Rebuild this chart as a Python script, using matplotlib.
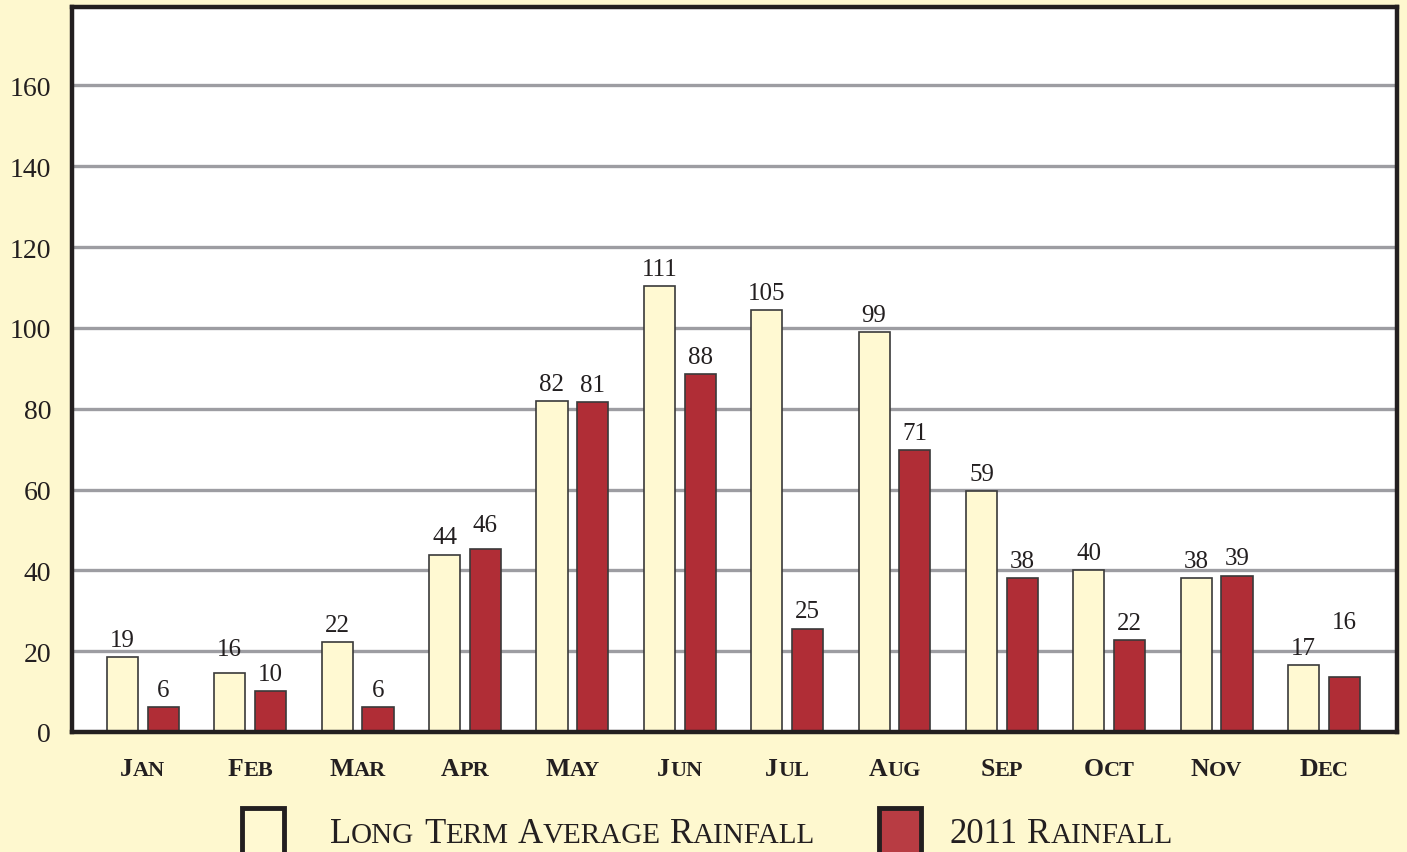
import matplotlib
matplotlib.use('Agg')
import matplotlib.pyplot as plt
import numpy as np
from matplotlib.patches import Rectangle
from matplotlib import transforms

# Monthly rainfall (mm) - values as labelled on the chart
months = ['Jan', 'Feb', 'Mar', 'Apr', 'May', 'Jun', 'Jul', 'Aug', 'Sep', 'Oct', 'Nov', 'Dec']
avg_labels = [19, 16, 22, 44, 82, 111, 105, 99, 59, 40, 38, 17]
rain_labels = [6, 10, 6, 46, 81, 88, 25, 71, 38, 22, 39, 16]
# bar heights as drawn (they don't always match the printed numbers)
avg_heights = [18.6, 14.6, 22.3, 43.9, 81.9, 110.4, 104.5, 99.0, 59.6, 40.0, 38.0, 16.6]
rain_heights = [6.2, 10.2, 6.2, 45.2, 81.6, 88.6, 25.6, 69.7, 38.0, 22.8, 38.7, 13.6]
y_ticks = [0, 20, 40, 60, 80, 100, 120, 140, 160]

BG = '#fef8cf'
CREAM = '#fff9d2'
RED = '#b02d36'
DARK = '#231f20'
FONT = 'Liberation Serif'

fig = plt.figure(figsize=(14.07, 8.53), dpi=100, facecolor=BG)
ax = fig.add_axes([72 / 1407, 1 - 733 / 853, 1325 / 1407, 725 / 853])
ax.set_facecolor('white')

x = np.arange(len(months))
w = 0.29
off = 0.19
ax.bar(x - off, avg_heights, w, color=CREAM, edgecolor='#3a3a3a', linewidth=1.2, zorder=3)
ax.bar(x + off, rain_heights, w, color=RED, edgecolor='#3a3a3a', linewidth=1.2, zorder=3)

# a couple of labels sit higher than the rest (points)
nudge_avg = {1: 5}
nudge_rain = {3: 5, 11: 27}
for i in range(len(months)):
    ax.annotate(str(avg_labels[i]), (x[i] - off, avg_heights[i]), xytext=(0, 8 + nudge_avg.get(i, 0)),
                textcoords='offset points', ha='center', va='baseline',
                fontsize=18, family=FONT, color=DARK, zorder=4)
    ax.annotate(str(rain_labels[i]), (x[i] + off, rain_heights[i]), xytext=(0, 8 + nudge_rain.get(i, 0)),
                textcoords='offset points', ha='center', va='baseline',
                fontsize=18, family=FONT, color=DARK, zorder=4)

ax.set_xlim(-0.66, 11.68)
ax.set_ylim(0, 179.4)
ax.set_yticks(y_ticks)
ax.set_yticklabels([str(v) for v in y_ticks], fontsize=20, family=FONT, color=DARK)
ax.tick_params(axis='y', length=0, pad=15)
ax.set_xticks([])
ax.yaxis.grid(True, color='#9d9da2', linewidth=2.4, zorder=1)
ax.set_axisbelow(True)
for s in ax.spines.values():
    s.set_linewidth(3.2)
    s.set_color(DARK)
    s.set_zorder(5)

renderer = fig.canvas.get_renderer()


def small_caps(xpos, ypos, s, big, small, trans, ha='center', **kw):
    runs = []
    for k, word in enumerate(s.split(' ')):
        if k:
            runs.append((' ', small))
        if word.isdigit():
            runs.append((word, big))
            continue
        runs.append((word[0], big))
        if len(word) > 1:
            runs.append((word[1:].upper(), small))
    texts, widths = [], []
    for t, fs in runs:
        if t == ' ':
            texts.append(None)
            widths.append(fs * 0.32 * fig.dpi / 72)
            continue
        txt = fig.text(xpos, ypos, t, fontsize=fs, va='baseline', ha='left',
                       transform=trans, family=FONT, color=DARK, **kw)
        texts.append(txt)
        widths.append(txt.get_window_extent(renderer).width)
    total = sum(widths)
    x0 = -total / 2 if ha == 'center' else 0
    for txt, wd in zip(texts, widths):
        if txt is not None:
            txt.set_transform(transforms.offset_copy(trans, fig=fig, x=x0 * 72 / fig.dpi, y=0, units='points'))
        x0 += wd


month_trans = transforms.blended_transform_factory(ax.transData, fig.transFigure)
for i, m in enumerate(months):
    small_caps(x[i], 1 - 776 / 853, m, 18.5, 16, month_trans, weight='bold')

# legend drawn by hand along the bottom edge
fig.patches.append(Rectangle((242 / 1407, 1 - 853 / 853 - 0.01), 42 / 1407, 44 / 853 + 0.01,
                             transform=fig.transFigure, facecolor=CREAM, edgecolor=DARK, linewidth=3.5))
fig.patches.append(Rectangle((879 / 1407, 1 - 853 / 853 - 0.01), 42 / 1407, 44 / 853 + 0.01,
                             transform=fig.transFigure, facecolor='#b83c43', edgecolor=DARK, linewidth=3.5))
small_caps(330 / 1407, 1 - 843 / 853, 'Long Term Average Rainfall', 25, 21, fig.transFigure, ha='left')
small_caps(950 / 1407, 1 - 843 / 853, '2011 Rainfall', 25, 21, fig.transFigure, ha='left')

fig.savefig('out.png', dpi=100, facecolor=BG)
